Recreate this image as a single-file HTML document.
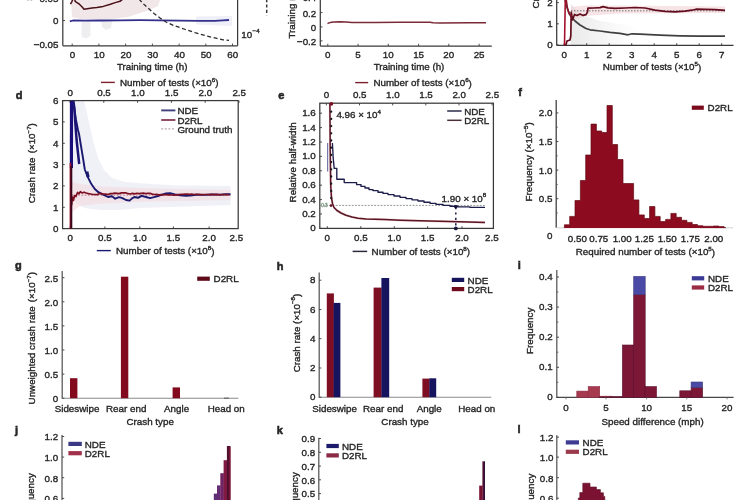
<!DOCTYPE html>
<html lang="en">
<head>
<meta charset="utf-8">
<title>Figure: NDE vs D2RL evaluation</title>
<style>
html,body{margin:0;padding:0;background:#fff;}
body{width:750px;height:500px;overflow:hidden;}
svg{display:block;font-family:"Liberation Sans",sans-serif;filter:blur(0.6px);}
</style>
</head>
<body>
<svg width="750" height="500" viewBox="0 0 750 500">
<defs><linearGradient id="gfade" x1="0" x2="1" y1="0" y2="0"><stop offset="0" stop-color="#d4d4d4" stop-opacity="0.5"/><stop offset="0.45" stop-color="#dcdcdc" stop-opacity="0.3"/><stop offset="1" stop-color="#e8e8e8" stop-opacity="0"/></linearGradient></defs>
<rect x="0" y="0" width="750" height="500" fill="#ffffff"/>
<polygon points="71.0,0.0 160.0,0.0 158.0,6.0 150.0,10.0 140.0,13.0 128.0,17.0 112.0,19.0 95.0,19.5 80.0,19.0 72.0,17.0" fill="#e6cfd1" fill-opacity="0.5"/>
<polygon points="81.6,21.0 90.4,21.0 90.4,36.0 86.0,38.5 81.6,37.0" fill="#d9d6de" fill-opacity="0.45"/>
<polygon points="101.0,21.0 112.0,21.0 111.0,28.0 106.0,30.0 102.0,27.0" fill="#dcd9dc" fill-opacity="0.45"/>
<polygon points="196.0,16.5 232.0,16.0 232.0,26.0 196.0,24.5" fill="#dfe0f0" fill-opacity="0.5"/>
<line x1="62.8" y1="0.0" x2="62.8" y2="45.8" stroke="#3a3a3a" stroke-width="1.25"/>
<line x1="237.6" y1="0.0" x2="237.6" y2="45.8" stroke="#3a3a3a" stroke-width="1.25"/>
<line x1="62.8" y1="45.8" x2="237.6" y2="45.8" stroke="#3a3a3a" stroke-width="1.25"/>
<line x1="72.2" y1="45.8" x2="72.2" y2="43.6" stroke="#3a3a3a" stroke-width="0.9"/>
<text x="72.5" y="54.2" font-size="9.8" text-anchor="middle" font-weight="normal" fill="#262626" stroke="#262626" stroke-width="0.36" dominant-baseline="central">0</text>
<line x1="98.9" y1="45.8" x2="98.9" y2="43.6" stroke="#3a3a3a" stroke-width="0.9"/>
<text x="99.2" y="54.2" font-size="9.8" text-anchor="middle" font-weight="normal" fill="#262626" stroke="#262626" stroke-width="0.36" dominant-baseline="central">10</text>
<line x1="125.6" y1="45.8" x2="125.6" y2="43.6" stroke="#3a3a3a" stroke-width="0.9"/>
<text x="125.9" y="54.2" font-size="9.8" text-anchor="middle" font-weight="normal" fill="#262626" stroke="#262626" stroke-width="0.36" dominant-baseline="central">20</text>
<line x1="152.4" y1="45.8" x2="152.4" y2="43.6" stroke="#3a3a3a" stroke-width="0.9"/>
<text x="152.7" y="54.2" font-size="9.8" text-anchor="middle" font-weight="normal" fill="#262626" stroke="#262626" stroke-width="0.36" dominant-baseline="central">30</text>
<line x1="179.1" y1="45.8" x2="179.1" y2="43.6" stroke="#3a3a3a" stroke-width="0.9"/>
<text x="179.4" y="54.2" font-size="9.8" text-anchor="middle" font-weight="normal" fill="#262626" stroke="#262626" stroke-width="0.36" dominant-baseline="central">40</text>
<line x1="205.8" y1="45.8" x2="205.8" y2="43.6" stroke="#3a3a3a" stroke-width="0.9"/>
<text x="206.1" y="54.2" font-size="9.8" text-anchor="middle" font-weight="normal" fill="#262626" stroke="#262626" stroke-width="0.36" dominant-baseline="central">50</text>
<line x1="232.5" y1="45.8" x2="232.5" y2="43.6" stroke="#3a3a3a" stroke-width="0.9"/>
<text x="232.8" y="54.2" font-size="9.8" text-anchor="middle" font-weight="normal" fill="#262626" stroke="#262626" stroke-width="0.36" dominant-baseline="central">60</text>
<line x1="62.8" y1="20.5" x2="65.0" y2="20.5" stroke="#3a3a3a" stroke-width="0.9"/>
<text x="58.5" y="20.6" font-size="9.8" text-anchor="end" font-weight="normal" fill="#262626" stroke="#262626" stroke-width="0.36" dominant-baseline="central">0</text>
<text x="58.5" y="44.6" font-size="9.8" text-anchor="end" font-weight="normal" fill="#262626" stroke="#262626" stroke-width="0.36" dominant-baseline="central">−0.05</text>
<text x="58.5" y="-1.8" font-size="9.8" text-anchor="end" font-weight="normal" fill="#262626" stroke="#262626" stroke-width="0.36" dominant-baseline="central">0.05</text>
<text x="29.0" y="-4.0" font-size="11" text-anchor="middle" font-weight="bold" fill="#262626" stroke="#262626" stroke-width="0.55" dominant-baseline="central">a</text>
<polyline points="70.4,4.2 71.8,1.8 73.2,-1.5 74.4,-1.5 75.2,1.3 77.0,2.6 79.2,4.0 82.4,7.2 84.0,9.3 87.2,8.8 92.0,8.0 96.8,7.5 103.2,6.4 109.6,4.5 116.0,2.4 120.0,1.3 123.0,-1.0" fill="none" stroke="#4a1018" stroke-width="1.5" stroke-linejoin="round"/>
<polyline points="69.8,21.4 73.0,20.5 85.0,20.6 100.0,20.5 120.0,20.3 140.0,20.2 160.0,20.4 180.0,20.7 200.0,20.9 215.0,20.9 223.0,20.4 229.0,20.0" fill="none" stroke="#332f8c" stroke-width="1.8" stroke-linejoin="round"/>
<polyline points="139.0,-1.0 143.0,3.5 148.0,8.0 154.0,13.5 160.0,18.0 166.0,22.0 174.0,25.6 184.0,29.0 195.0,32.6 206.0,35.8 216.0,38.2 223.0,39.8 229.0,40.4" fill="none" stroke="#2a2a2a" stroke-width="1.3" stroke-linejoin="round" stroke-dasharray="4 2.6"/>
<text x="241.2" y="34.6" font-size="9.8" text-anchor="start" font-weight="normal" fill="#262626" stroke="#262626" stroke-width="0.36" dominant-baseline="central">10</text>
<text x="252.6" y="30.2" font-size="6.2" text-anchor="start" font-weight="normal" fill="#262626" stroke="#262626" stroke-width="0.36" dominant-baseline="central">−4</text>
<text x="152.2" y="66.9" font-size="9.75" text-anchor="middle" font-weight="normal" fill="#262626" stroke="#262626" stroke-width="0.36" dominant-baseline="central">Training time (h)</text>
<line x1="266.7" y1="-1.0" x2="266.7" y2="15.5" stroke="#3a3a3a" stroke-width="1.5" stroke-dasharray="3.2 2.2"/>
<line x1="320.3" y1="0.0" x2="320.3" y2="46.0" stroke="#3a3a3a" stroke-width="1.25"/>
<line x1="320.3" y1="46.0" x2="491.8" y2="46.0" stroke="#3a3a3a" stroke-width="1.25"/>
<line x1="327.8" y1="46.0" x2="327.8" y2="43.8" stroke="#3a3a3a" stroke-width="0.9"/>
<text x="327.8" y="54.2" font-size="9.8" text-anchor="middle" font-weight="normal" fill="#262626" stroke="#262626" stroke-width="0.36" dominant-baseline="central">0</text>
<line x1="358.1" y1="46.0" x2="358.1" y2="43.8" stroke="#3a3a3a" stroke-width="0.9"/>
<text x="358.1" y="54.2" font-size="9.8" text-anchor="middle" font-weight="normal" fill="#262626" stroke="#262626" stroke-width="0.36" dominant-baseline="central">5</text>
<line x1="388.3" y1="46.0" x2="388.3" y2="43.8" stroke="#3a3a3a" stroke-width="0.9"/>
<text x="388.3" y="54.2" font-size="9.8" text-anchor="middle" font-weight="normal" fill="#262626" stroke="#262626" stroke-width="0.36" dominant-baseline="central">10</text>
<line x1="418.6" y1="46.0" x2="418.6" y2="43.8" stroke="#3a3a3a" stroke-width="0.9"/>
<text x="418.6" y="54.2" font-size="9.8" text-anchor="middle" font-weight="normal" fill="#262626" stroke="#262626" stroke-width="0.36" dominant-baseline="central">15</text>
<line x1="448.8" y1="46.0" x2="448.8" y2="43.8" stroke="#3a3a3a" stroke-width="0.9"/>
<text x="448.8" y="54.2" font-size="9.8" text-anchor="middle" font-weight="normal" fill="#262626" stroke="#262626" stroke-width="0.36" dominant-baseline="central">20</text>
<line x1="479.1" y1="46.0" x2="479.1" y2="43.8" stroke="#3a3a3a" stroke-width="0.9"/>
<text x="479.1" y="54.2" font-size="9.8" text-anchor="middle" font-weight="normal" fill="#262626" stroke="#262626" stroke-width="0.36" dominant-baseline="central">25</text>
<line x1="320.3" y1="-2.6" x2="322.5" y2="-2.6" stroke="#3a3a3a" stroke-width="0.9"/>
<text x="316.3" y="-2.2" font-size="9.8" text-anchor="end" font-weight="normal" fill="#262626" stroke="#262626" stroke-width="0.36" dominant-baseline="central">0.4</text>
<line x1="320.3" y1="12.6" x2="322.5" y2="12.6" stroke="#3a3a3a" stroke-width="0.9"/>
<text x="316.3" y="13.0" font-size="9.8" text-anchor="end" font-weight="normal" fill="#262626" stroke="#262626" stroke-width="0.36" dominant-baseline="central">0.2</text>
<line x1="320.3" y1="26.9" x2="322.5" y2="26.9" stroke="#3a3a3a" stroke-width="0.9"/>
<text x="316.3" y="27.3" font-size="9.8" text-anchor="end" font-weight="normal" fill="#262626" stroke="#262626" stroke-width="0.36" dominant-baseline="central">0</text>
<line x1="320.3" y1="40.9" x2="322.5" y2="40.9" stroke="#3a3a3a" stroke-width="0.9"/>
<text x="316.3" y="41.3" font-size="9.8" text-anchor="end" font-weight="normal" fill="#262626" stroke="#262626" stroke-width="0.36" dominant-baseline="central">−0.2</text>
<text x="291.2" y="38.6" font-size="9.8" text-anchor="start" font-weight="normal" fill="#262626" stroke="#262626" stroke-width="0.36" dominant-baseline="central" transform="rotate(-90 291.2 38.6)">Training reward</text>
<polyline points="327.5,23.6 329.0,22.9 331.5,22.2 334.0,21.9 340.0,21.8 346.0,22.0 352.0,22.4 375.0,22.4 400.0,22.3 430.0,22.2 433.0,22.7 440.0,22.9 470.0,22.7 486.0,22.7" fill="none" stroke="#7b2a37" stroke-width="1.5" stroke-linejoin="round"/>
<text x="409.0" y="66.9" font-size="9.75" text-anchor="middle" font-weight="normal" fill="#262626" stroke="#262626" stroke-width="0.36" dominant-baseline="central">Training time (h)</text>
<polygon points="571.0,45.4 571.0,4.0 580.0,14.0 600.0,21.0 640.0,27.0 640.0,45.4" fill="url(#gfade)"/>
<polygon points="571.0,7.0 585.0,5.5 620.0,5.5 725.0,6.5 725.0,13.0 620.0,13.5 585.0,16.0 571.0,21.0" fill="#f0c9cd" fill-opacity="0.5"/>
<line x1="556.7" y1="0.0" x2="556.7" y2="45.4" stroke="#3a3a3a" stroke-width="1.25"/>
<line x1="556.7" y1="45.4" x2="733.5" y2="45.4" stroke="#3a3a3a" stroke-width="1.25"/>
<line x1="564.2" y1="45.4" x2="564.2" y2="43.2" stroke="#3a3a3a" stroke-width="0.9"/>
<text x="564.2" y="54.2" font-size="9.8" text-anchor="middle" font-weight="normal" fill="#262626" stroke="#262626" stroke-width="0.36" dominant-baseline="central">0</text>
<line x1="586.7" y1="45.4" x2="586.7" y2="43.2" stroke="#3a3a3a" stroke-width="0.9"/>
<text x="586.7" y="54.2" font-size="9.8" text-anchor="middle" font-weight="normal" fill="#262626" stroke="#262626" stroke-width="0.36" dominant-baseline="central">1</text>
<line x1="609.2" y1="45.4" x2="609.2" y2="43.2" stroke="#3a3a3a" stroke-width="0.9"/>
<text x="609.2" y="54.2" font-size="9.8" text-anchor="middle" font-weight="normal" fill="#262626" stroke="#262626" stroke-width="0.36" dominant-baseline="central">2</text>
<line x1="631.7" y1="45.4" x2="631.7" y2="43.2" stroke="#3a3a3a" stroke-width="0.9"/>
<text x="631.7" y="54.2" font-size="9.8" text-anchor="middle" font-weight="normal" fill="#262626" stroke="#262626" stroke-width="0.36" dominant-baseline="central">3</text>
<line x1="654.2" y1="45.4" x2="654.2" y2="43.2" stroke="#3a3a3a" stroke-width="0.9"/>
<text x="654.2" y="54.2" font-size="9.8" text-anchor="middle" font-weight="normal" fill="#262626" stroke="#262626" stroke-width="0.36" dominant-baseline="central">4</text>
<line x1="676.7" y1="45.4" x2="676.7" y2="43.2" stroke="#3a3a3a" stroke-width="0.9"/>
<text x="676.7" y="54.2" font-size="9.8" text-anchor="middle" font-weight="normal" fill="#262626" stroke="#262626" stroke-width="0.36" dominant-baseline="central">5</text>
<line x1="699.2" y1="45.4" x2="699.2" y2="43.2" stroke="#3a3a3a" stroke-width="0.9"/>
<text x="699.2" y="54.2" font-size="9.8" text-anchor="middle" font-weight="normal" fill="#262626" stroke="#262626" stroke-width="0.36" dominant-baseline="central">6</text>
<line x1="721.7" y1="45.4" x2="721.7" y2="43.2" stroke="#3a3a3a" stroke-width="0.9"/>
<text x="721.7" y="54.2" font-size="9.8" text-anchor="middle" font-weight="normal" fill="#262626" stroke="#262626" stroke-width="0.36" dominant-baseline="central">7</text>
<line x1="556.7" y1="45.0" x2="558.9" y2="45.0" stroke="#3a3a3a" stroke-width="0.9"/>
<text x="552.8" y="44.7" font-size="9.8" text-anchor="end" font-weight="normal" fill="#262626" stroke="#262626" stroke-width="0.36" dominant-baseline="central">0</text>
<line x1="556.7" y1="23.8" x2="558.9" y2="23.8" stroke="#3a3a3a" stroke-width="0.9"/>
<text x="552.8" y="23.5" font-size="9.8" text-anchor="end" font-weight="normal" fill="#262626" stroke="#262626" stroke-width="0.36" dominant-baseline="central">1</text>
<line x1="556.7" y1="2.6" x2="558.9" y2="2.6" stroke="#3a3a3a" stroke-width="0.9"/>
<text x="552.8" y="2.3" font-size="9.8" text-anchor="end" font-weight="normal" fill="#262626" stroke="#262626" stroke-width="0.36" dominant-baseline="central">2</text>
<text x="535.2" y="8.5" font-size="9.8" text-anchor="start" font-weight="normal" fill="#262626" stroke="#262626" stroke-width="0.36" dominant-baseline="central" transform="rotate(-90 535.2 8.5)">Crash rate</text>
<line x1="571.0" y1="10.8" x2="725.0" y2="10.8" stroke="#555" stroke-width="0.8" stroke-dasharray="1.5 1.5"/>
<polyline points="565.0,-1.0 566.5,6.0 568.5,12.0 571.0,16.5 575.0,21.0 580.0,25.0 586.0,28.5 590.0,29.8 600.0,31.0 610.0,32.4 620.0,33.3 628.0,34.8 632.0,33.8 640.0,34.2 660.0,35.2 680.0,35.9 700.0,36.2 725.0,36.1" fill="none" stroke="#404040" stroke-width="1.7" stroke-linejoin="round"/>
<polyline points="564.0,45.0 566.0,44.5 567.0,41.0 570.0,40.0 570.8,36.0 571.2,12.0 572.5,20.0 574.5,14.5 577.0,15.5 580.0,14.0 583.0,15.4 586.0,14.6 587.5,12.0 588.0,8.2 594.0,8.0 600.0,7.6 603.0,6.6 608.0,7.8 615.0,8.4 625.0,8.0 635.0,7.5 645.0,8.0 655.0,10.2 665.0,11.3 675.0,11.8 685.0,11.2 692.0,10.2 696.0,9.2 705.0,9.4 715.0,9.6 725.0,10.3" fill="none" stroke="#620e1e" stroke-width="1.7" stroke-linejoin="round"/>
<polyline points="564.5,45.0 565.3,-1.0" fill="none" stroke="#a3122a" stroke-width="1.6" stroke-linejoin="round"/>
<polyline points="566.2,-1.0 567.5,8.0 569.5,14.5 572.0,16.2" fill="none" stroke="#8e1226" stroke-width="1.4" stroke-linejoin="round"/>
<text x="652.0" y="66.6" font-size="9.8" text-anchor="middle" font-weight="normal" fill="#262626" stroke="#262626" stroke-width="0.36" dominant-baseline="central">Number of tests (×10<tspan font-size="6.2" dy="-3.6">5</tspan><tspan dy="3.6">)</tspan></text>
<line x1="101.0" y1="82.4" x2="114.8" y2="82.4" stroke="#7c2030" stroke-width="1.4"/>
<text x="120.0" y="82.2" font-size="9.8" text-anchor="start" font-weight="normal" fill="#262626" stroke="#262626" stroke-width="0.36" dominant-baseline="central">Number of tests (×10<tspan font-size="6.2" dy="-3.6">6</tspan><tspan dy="3.6">)</tspan></text>
<text x="19.2" y="95.2" font-size="11" text-anchor="middle" font-weight="bold" fill="#262626" stroke="#262626" stroke-width="0.55" dominant-baseline="central">d</text>
<polygon points="72.0,100.6 84.0,100.6 88.0,118.0 93.0,140.0 98.0,158.0 104.0,170.0 112.0,178.0 125.0,182.0 150.0,184.0 180.0,185.5 230.5,186.0 230.5,205.0 200.0,206.0 170.0,207.0 140.0,208.0 120.0,210.0 100.0,210.0 85.0,208.0 78.0,205.0 74.0,200.0 72.0,190.0" fill="#e2e2f0" fill-opacity="0.5"/>
<polygon points="72.0,182.0 80.0,184.0 100.0,186.5 150.0,188.5 230.5,190.0 230.5,200.0 150.0,201.5 100.0,203.5 80.0,206.0 72.0,212.0" fill="#f3d6d9" fill-opacity="0.5"/>
<rect x="62.6" y="100.6" width="175.6" height="128.0" fill="none" stroke="#3a3a3a" stroke-width="1.25"/>
<line x1="70.0" y1="100.6" x2="70.0" y2="102.8" stroke="#3a3a3a" stroke-width="0.9"/>
<line x1="70.2" y1="228.6" x2="70.2" y2="226.4" stroke="#3a3a3a" stroke-width="0.9"/>
<text x="70.2" y="92.8" font-size="9.8" text-anchor="middle" font-weight="normal" fill="#262626" stroke="#262626" stroke-width="0.36" dominant-baseline="central">0</text>
<text x="70.2" y="237.6" font-size="9.8" text-anchor="middle" font-weight="normal" fill="#262626" stroke="#262626" stroke-width="0.36" dominant-baseline="central">0</text>
<line x1="103.8" y1="100.6" x2="103.8" y2="102.8" stroke="#3a3a3a" stroke-width="0.9"/>
<line x1="104.9" y1="228.6" x2="104.9" y2="226.4" stroke="#3a3a3a" stroke-width="0.9"/>
<text x="104.0" y="92.8" font-size="9.8" text-anchor="middle" font-weight="normal" fill="#262626" stroke="#262626" stroke-width="0.36" dominant-baseline="central">0.5</text>
<text x="104.9" y="237.6" font-size="9.8" text-anchor="middle" font-weight="normal" fill="#262626" stroke="#262626" stroke-width="0.36" dominant-baseline="central">0.5</text>
<line x1="137.6" y1="100.6" x2="137.6" y2="102.8" stroke="#3a3a3a" stroke-width="0.9"/>
<line x1="139.8" y1="228.6" x2="139.8" y2="226.4" stroke="#3a3a3a" stroke-width="0.9"/>
<text x="137.8" y="92.8" font-size="9.8" text-anchor="middle" font-weight="normal" fill="#262626" stroke="#262626" stroke-width="0.36" dominant-baseline="central">1.0</text>
<text x="139.8" y="237.6" font-size="9.8" text-anchor="middle" font-weight="normal" fill="#262626" stroke="#262626" stroke-width="0.36" dominant-baseline="central">1.0</text>
<line x1="171.4" y1="100.6" x2="171.4" y2="102.8" stroke="#3a3a3a" stroke-width="0.9"/>
<line x1="173.4" y1="228.6" x2="173.4" y2="226.4" stroke="#3a3a3a" stroke-width="0.9"/>
<text x="171.6" y="92.8" font-size="9.8" text-anchor="middle" font-weight="normal" fill="#262626" stroke="#262626" stroke-width="0.36" dominant-baseline="central">1.5</text>
<text x="173.4" y="237.6" font-size="9.8" text-anchor="middle" font-weight="normal" fill="#262626" stroke="#262626" stroke-width="0.36" dominant-baseline="central">1.5</text>
<line x1="205.2" y1="100.6" x2="205.2" y2="102.8" stroke="#3a3a3a" stroke-width="0.9"/>
<line x1="209.1" y1="228.6" x2="209.1" y2="226.4" stroke="#3a3a3a" stroke-width="0.9"/>
<text x="205.4" y="92.8" font-size="9.8" text-anchor="middle" font-weight="normal" fill="#262626" stroke="#262626" stroke-width="0.36" dominant-baseline="central">2.0</text>
<text x="209.1" y="237.6" font-size="9.8" text-anchor="middle" font-weight="normal" fill="#262626" stroke="#262626" stroke-width="0.36" dominant-baseline="central">2.0</text>
<line x1="239.0" y1="100.6" x2="239.0" y2="102.8" stroke="#3a3a3a" stroke-width="0.9"/>
<text x="239.2" y="92.8" font-size="9.8" text-anchor="middle" font-weight="normal" fill="#262626" stroke="#262626" stroke-width="0.36" dominant-baseline="central">2.5</text>
<text x="236.3" y="237.6" font-size="9.8" text-anchor="middle" font-weight="normal" fill="#262626" stroke="#262626" stroke-width="0.36" dominant-baseline="central">2.5</text>
<line x1="62.6" y1="228.6" x2="64.8" y2="228.6" stroke="#3a3a3a" stroke-width="0.9"/>
<text x="58.4" y="228.4" font-size="9.8" text-anchor="end" font-weight="normal" fill="#262626" stroke="#262626" stroke-width="0.36" dominant-baseline="central">0</text>
<line x1="62.6" y1="207.3" x2="64.8" y2="207.3" stroke="#3a3a3a" stroke-width="0.9"/>
<text x="58.4" y="207.1" font-size="9.8" text-anchor="end" font-weight="normal" fill="#262626" stroke="#262626" stroke-width="0.36" dominant-baseline="central">1</text>
<line x1="62.6" y1="185.9" x2="64.8" y2="185.9" stroke="#3a3a3a" stroke-width="0.9"/>
<text x="58.4" y="185.7" font-size="9.8" text-anchor="end" font-weight="normal" fill="#262626" stroke="#262626" stroke-width="0.36" dominant-baseline="central">2</text>
<line x1="62.6" y1="164.6" x2="64.8" y2="164.6" stroke="#3a3a3a" stroke-width="0.9"/>
<text x="58.4" y="164.4" font-size="9.8" text-anchor="end" font-weight="normal" fill="#262626" stroke="#262626" stroke-width="0.36" dominant-baseline="central">3</text>
<line x1="62.6" y1="143.3" x2="64.8" y2="143.3" stroke="#3a3a3a" stroke-width="0.9"/>
<text x="58.4" y="143.1" font-size="9.8" text-anchor="end" font-weight="normal" fill="#262626" stroke="#262626" stroke-width="0.36" dominant-baseline="central">4</text>
<line x1="62.6" y1="121.9" x2="64.8" y2="121.9" stroke="#3a3a3a" stroke-width="0.9"/>
<text x="58.4" y="121.7" font-size="9.8" text-anchor="end" font-weight="normal" fill="#262626" stroke="#262626" stroke-width="0.36" dominant-baseline="central">5</text>
<line x1="62.6" y1="100.6" x2="64.8" y2="100.6" stroke="#3a3a3a" stroke-width="0.9"/>
<text x="58.4" y="100.4" font-size="9.8" text-anchor="end" font-weight="normal" fill="#262626" stroke="#262626" stroke-width="0.36" dominant-baseline="central">6</text>
<text x="31.2" y="163.2" font-size="9.8" text-anchor="middle" font-weight="normal" fill="#262626" stroke="#262626" stroke-width="0.36" dominant-baseline="central" transform="rotate(-90 31.2 163.2)">Crash rate <tspan dx="1.5">(×10</tspan><tspan font-size="6.2" dy="-3.6">−7</tspan><tspan dy="3.6">)</tspan></text>
<line x1="72.0" y1="195.1" x2="230.5" y2="195.1" stroke="#b0566a" stroke-width="0.8" stroke-dasharray="1.6 1.6"/>
<polyline points="72.6,100.6 74.0,106.0 76.0,120.0 78.0,130.0 79.2,134.8 81.0,146.0 83.0,158.0 84.8,169.5 87.6,176.6 91.2,183.8 94.8,189.0 98.4,192.2 103.2,194.6 108.0,197.0 112.0,196.2 115.2,198.7 119.0,197.2 122.4,198.2 126.0,200.0 129.6,200.6 132.0,198.4 134.4,197.0 138.0,197.8 141.6,195.8 146.0,197.0 150.0,198.2 154.0,197.2 158.0,196.0 162.0,194.6 166.0,193.4 170.0,193.2 175.0,194.4 180.0,195.2 186.0,195.8 190.5,195.6 196.0,194.8 204.0,194.9 212.0,194.5 220.0,194.6 226.0,194.2 230.5,194.3" fill="none" stroke="#1a1970" stroke-width="1.9" stroke-linejoin="round"/>
<polyline points="71.5,101.0 71.4,168.0" fill="none" stroke="#1a0f78" stroke-width="3.2" stroke-linejoin="round"/>
<polyline points="73.4,101.2 74.3,108.0 75.4,124.0 76.6,140.0 78.0,153.0 79.2,164.0" fill="none" stroke="#1a1472" stroke-width="2.5" stroke-linejoin="round"/>
<polyline points="86.9,171.6 88.2,177.2" fill="none" stroke="#1a1970" stroke-width="3.0" stroke-linejoin="round"/>
<polyline points="70.8,228.6 71.0,192.0 71.6,205.0 72.4,197.0 73.4,200.5 74.6,195.5 76.0,196.5 77.5,192.5 79.0,193.8 80.5,191.6 82.0,193.0 84.0,192.2 86.2,193.0 88.4,193.6 90.6,194.0 92.8,194.5 95.0,194.5 97.2,194.7 99.4,193.6 101.6,193.6 103.8,194.2 106.0,194.2 108.2,194.5 110.4,193.6 112.6,193.6 114.8,193.2 117.0,193.4 119.2,193.6 121.4,192.9 123.6,192.8 125.8,192.8 128.0,193.7 130.2,194.0 132.4,193.4 134.6,193.9 136.8,193.3 139.0,193.6 141.2,193.4 143.4,193.2 145.6,193.6 147.8,193.4 150.0,193.3 152.2,194.1 154.4,194.5 156.6,194.4 158.8,194.8 161.0,194.7 163.2,194.8 165.4,194.5 167.6,194.8 169.8,194.8 172.0,195.0 174.2,195.1 176.4,194.8 178.6,194.6 180.8,194.4 183.0,194.3 185.2,194.2 187.4,194.2 189.6,194.4 191.8,194.2 194.0,194.5 196.2,194.4 198.4,194.4 200.6,194.7 202.8,194.6 205.0,194.5 207.2,194.5 209.4,194.7 211.6,194.4 213.8,194.7 216.0,194.4 218.2,194.6 220.4,194.8 222.6,194.5 224.8,194.7 227.0,194.6 229.2,194.6" fill="none" stroke="#7e1024" stroke-width="1.7" stroke-linejoin="round"/>
<polyline points="70.4,228.6 70.4,163.0" fill="none" stroke="#a3122a" stroke-width="1.6" stroke-linejoin="round"/>
<polyline points="71.3,228.6 71.3,166.0" fill="none" stroke="#3a0a1c" stroke-width="2.0" stroke-linejoin="round"/>
<line x1="161.2" y1="110.4" x2="175.4" y2="110.4" stroke="#3f3f7c" stroke-width="1.9"/>
<text x="177.4" y="110.6" font-size="9.8" text-anchor="start" font-weight="normal" fill="#262626" stroke="#262626" stroke-width="0.36" dominant-baseline="central">NDE</text>
<line x1="161.2" y1="120.0" x2="175.4" y2="120.0" stroke="#8a4658" stroke-width="1.9"/>
<text x="177.4" y="120.2" font-size="9.8" text-anchor="start" font-weight="normal" fill="#262626" stroke="#262626" stroke-width="0.36" dominant-baseline="central">D2RL</text>
<line x1="161.2" y1="128.9" x2="175.4" y2="128.9" stroke="#b9a9ae" stroke-width="1.3" stroke-dasharray="2 1.6"/>
<text x="177.4" y="129.1" font-size="9.8" text-anchor="start" font-weight="normal" fill="#262626" stroke="#262626" stroke-width="0.36" dominant-baseline="central">Ground truth</text>
<line x1="96.8" y1="250.6" x2="110.8" y2="250.6" stroke="#1b1a70" stroke-width="1.4"/>
<text x="116.0" y="250.6" font-size="9.8" text-anchor="start" font-weight="normal" fill="#262626" stroke="#262626" stroke-width="0.36" dominant-baseline="central">Number of tests (×10<tspan font-size="6.2" dy="-3.6">8</tspan><tspan dy="3.6">)</tspan></text>
<line x1="355.2" y1="82.6" x2="368.2" y2="82.6" stroke="#7c2030" stroke-width="1.4"/>
<text x="373.4" y="82.6" font-size="9.8" text-anchor="start" font-weight="normal" fill="#262626" stroke="#262626" stroke-width="0.36" dominant-baseline="central">Number of tests (×10<tspan font-size="6.2" dy="-3.6">6</tspan><tspan dy="3.6">)</tspan></text>
<text x="281.2" y="95.2" font-size="11" text-anchor="middle" font-weight="bold" fill="#262626" stroke="#262626" stroke-width="0.55" dominant-baseline="central">e</text>
<rect x="319.8" y="103.2" width="173.6" height="125.2" fill="none" stroke="#3a3a3a" stroke-width="1.25"/>
<line x1="326.4" y1="103.2" x2="326.4" y2="105.4" stroke="#3a3a3a" stroke-width="0.9"/>
<line x1="327.3" y1="228.4" x2="327.3" y2="226.2" stroke="#3a3a3a" stroke-width="0.9"/>
<text x="326.6" y="94.2" font-size="9.8" text-anchor="middle" font-weight="normal" fill="#262626" stroke="#262626" stroke-width="0.36" dominant-baseline="central">0</text>
<text x="327.3" y="237.8" font-size="9.8" text-anchor="middle" font-weight="normal" fill="#262626" stroke="#262626" stroke-width="0.36" dominant-baseline="central">0</text>
<line x1="359.5" y1="103.2" x2="359.5" y2="105.4" stroke="#3a3a3a" stroke-width="0.9"/>
<line x1="360.8" y1="228.4" x2="360.8" y2="226.2" stroke="#3a3a3a" stroke-width="0.9"/>
<text x="359.7" y="94.2" font-size="9.8" text-anchor="middle" font-weight="normal" fill="#262626" stroke="#262626" stroke-width="0.36" dominant-baseline="central">0.5</text>
<text x="360.8" y="237.8" font-size="9.8" text-anchor="middle" font-weight="normal" fill="#262626" stroke="#262626" stroke-width="0.36" dominant-baseline="central">0.5</text>
<line x1="392.7" y1="103.2" x2="392.7" y2="105.4" stroke="#3a3a3a" stroke-width="0.9"/>
<line x1="394.3" y1="228.4" x2="394.3" y2="226.2" stroke="#3a3a3a" stroke-width="0.9"/>
<text x="392.9" y="94.2" font-size="9.8" text-anchor="middle" font-weight="normal" fill="#262626" stroke="#262626" stroke-width="0.36" dominant-baseline="central">1.0</text>
<text x="394.3" y="237.8" font-size="9.8" text-anchor="middle" font-weight="normal" fill="#262626" stroke="#262626" stroke-width="0.36" dominant-baseline="central">1.0</text>
<line x1="425.8" y1="103.2" x2="425.8" y2="105.4" stroke="#3a3a3a" stroke-width="0.9"/>
<line x1="427.6" y1="228.4" x2="427.6" y2="226.2" stroke="#3a3a3a" stroke-width="0.9"/>
<text x="426.0" y="94.2" font-size="9.8" text-anchor="middle" font-weight="normal" fill="#262626" stroke="#262626" stroke-width="0.36" dominant-baseline="central">1.5</text>
<text x="427.6" y="237.8" font-size="9.8" text-anchor="middle" font-weight="normal" fill="#262626" stroke="#262626" stroke-width="0.36" dominant-baseline="central">1.5</text>
<line x1="459.0" y1="103.2" x2="459.0" y2="105.4" stroke="#3a3a3a" stroke-width="0.9"/>
<line x1="462.0" y1="228.4" x2="462.0" y2="226.2" stroke="#3a3a3a" stroke-width="0.9"/>
<text x="459.2" y="94.2" font-size="9.8" text-anchor="middle" font-weight="normal" fill="#262626" stroke="#262626" stroke-width="0.36" dominant-baseline="central">2.0</text>
<text x="462.0" y="237.8" font-size="9.8" text-anchor="middle" font-weight="normal" fill="#262626" stroke="#262626" stroke-width="0.36" dominant-baseline="central">2.0</text>
<line x1="492.1" y1="103.2" x2="492.1" y2="105.4" stroke="#3a3a3a" stroke-width="0.9"/>
<text x="492.3" y="94.2" font-size="9.8" text-anchor="middle" font-weight="normal" fill="#262626" stroke="#262626" stroke-width="0.36" dominant-baseline="central">2.5</text>
<text x="491.9" y="237.8" font-size="9.8" text-anchor="middle" font-weight="normal" fill="#262626" stroke="#262626" stroke-width="0.36" dominant-baseline="central">2.5</text>
<line x1="319.8" y1="228.4" x2="322.0" y2="228.4" stroke="#3a3a3a" stroke-width="0.9"/>
<text x="315.8" y="227.8" font-size="9.8" text-anchor="end" font-weight="normal" fill="#262626" stroke="#262626" stroke-width="0.36" dominant-baseline="central">0</text>
<line x1="319.8" y1="214.0" x2="322.0" y2="214.0" stroke="#3a3a3a" stroke-width="0.9"/>
<text x="315.8" y="213.4" font-size="9.8" text-anchor="end" font-weight="normal" fill="#262626" stroke="#262626" stroke-width="0.36" dominant-baseline="central">0.2</text>
<line x1="319.8" y1="199.6" x2="322.0" y2="199.6" stroke="#3a3a3a" stroke-width="0.9"/>
<text x="315.8" y="199.0" font-size="9.8" text-anchor="end" font-weight="normal" fill="#262626" stroke="#262626" stroke-width="0.36" dominant-baseline="central">0.4</text>
<line x1="319.8" y1="185.2" x2="322.0" y2="185.2" stroke="#3a3a3a" stroke-width="0.9"/>
<text x="315.8" y="184.6" font-size="9.8" text-anchor="end" font-weight="normal" fill="#262626" stroke="#262626" stroke-width="0.36" dominant-baseline="central">0.6</text>
<line x1="319.8" y1="170.8" x2="322.0" y2="170.8" stroke="#3a3a3a" stroke-width="0.9"/>
<text x="315.8" y="170.2" font-size="9.8" text-anchor="end" font-weight="normal" fill="#262626" stroke="#262626" stroke-width="0.36" dominant-baseline="central">0.8</text>
<line x1="319.8" y1="156.4" x2="322.0" y2="156.4" stroke="#3a3a3a" stroke-width="0.9"/>
<text x="315.8" y="155.8" font-size="9.8" text-anchor="end" font-weight="normal" fill="#262626" stroke="#262626" stroke-width="0.36" dominant-baseline="central">1.0</text>
<line x1="319.8" y1="142.0" x2="322.0" y2="142.0" stroke="#3a3a3a" stroke-width="0.9"/>
<text x="315.8" y="141.4" font-size="9.8" text-anchor="end" font-weight="normal" fill="#262626" stroke="#262626" stroke-width="0.36" dominant-baseline="central">1.2</text>
<line x1="319.8" y1="127.6" x2="322.0" y2="127.6" stroke="#3a3a3a" stroke-width="0.9"/>
<text x="315.8" y="127.0" font-size="9.8" text-anchor="end" font-weight="normal" fill="#262626" stroke="#262626" stroke-width="0.36" dominant-baseline="central">1.4</text>
<line x1="319.8" y1="113.2" x2="322.0" y2="113.2" stroke="#3a3a3a" stroke-width="0.9"/>
<text x="315.8" y="112.6" font-size="9.8" text-anchor="end" font-weight="normal" fill="#262626" stroke="#262626" stroke-width="0.36" dominant-baseline="central">1.6</text>
<text x="292.4" y="162.4" font-size="9.8" text-anchor="middle" font-weight="normal" fill="#262626" stroke="#262626" stroke-width="0.36" dominant-baseline="central" transform="rotate(-90 292.4 162.4)">Relative half-width</text>
<line x1="319.8" y1="205.4" x2="485.0" y2="205.4" stroke="#7f8a80" stroke-width="0.9" stroke-dasharray="1.8 1.4"/>
<text x="324.4" y="205.6" font-size="4.6" text-anchor="middle" font-weight="normal" fill="#7f9a88" stroke="#7f9a88" stroke-width="0.36" dominant-baseline="central">0.3</text>
<polyline points="332.4,143.0 333.2,158.0 334.2,168.4 336.8,168.4 336.8,179.2 344.2,179.2 344.2,182.6 356.6,182.6 356.6,184.6 361.0,184.6 361.0,186.4 365.0,186.4 365.0,188.0 369.0,188.0 369.0,189.6 373.0,189.6 373.0,190.6 378.0,190.6 378.0,192.2 383.0,192.2 383.0,193.4 388.0,193.4 388.0,194.6 394.0,194.6 394.0,196.0 400.0,196.0 400.0,197.3 406.0,197.3 406.0,198.6 412.0,198.6 412.0,199.8 418.0,199.8 418.0,201.0 424.0,201.0 424.0,202.2 430.0,202.2 430.0,203.3 436.0,203.3 436.0,204.3 443.0,204.3 443.0,205.3 450.0,205.3 450.0,206.2 458.0,206.2 458.0,206.8 470.0,206.8 470.0,207.4 485.0,207.4" fill="none" stroke="#1c1c4a" stroke-width="1.35" stroke-linejoin="round"/>
<polyline points="327.7,171.5 327.7,143.0" fill="none" stroke="#5a5a96" stroke-width="1.0" stroke-linejoin="round"/>
<polyline points="329.9,103.2 330.2,150.0 330.7,185.0 331.5,198.0 332.6,204.0 334.0,207.5 337.0,210.5 341.0,213.0 346.0,215.2 352.0,217.0 358.0,218.2 366.0,219.0 375.0,219.2 385.0,219.6 400.0,220.2 420.0,220.8 440.0,221.3 460.0,221.8 485.0,222.4" fill="none" stroke="#c23a50" stroke-width="2.2" stroke-linejoin="round" stroke-opacity="0.25"/>
<polyline points="329.9,103.2 330.2,150.0 330.7,185.0 331.5,198.0 332.6,204.0 334.0,207.5 337.0,210.5 341.0,213.0 346.0,215.2 352.0,217.0 358.0,218.2 366.0,219.0 375.0,219.2 385.0,219.6 400.0,220.2 420.0,220.8 440.0,221.3 460.0,221.8 485.0,222.4" fill="none" stroke="#5a1624" stroke-width="1.5" stroke-linejoin="round"/>
<circle cx="331.2" cy="111.7" r="1.15" fill="#15151c"/>
<circle cx="331.2" cy="118.9" r="1.15" fill="#15151c"/>
<circle cx="331.2" cy="126.1" r="1.15" fill="#15151c"/>
<circle cx="331.2" cy="133.3" r="1.15" fill="#15151c"/>
<circle cx="331.2" cy="140.5" r="1.15" fill="#15151c"/>
<circle cx="331.2" cy="147.7" r="1.15" fill="#15151c"/>
<circle cx="331.2" cy="154.9" r="1.15" fill="#15151c"/>
<circle cx="331.2" cy="162.1" r="1.15" fill="#15151c"/>
<circle cx="331.2" cy="169.3" r="1.15" fill="#15151c"/>
<circle cx="331.2" cy="176.5" r="1.15" fill="#15151c"/>
<circle cx="331.2" cy="183.7" r="1.15" fill="#15151c"/>
<circle cx="331.2" cy="190.9" r="1.15" fill="#15151c"/>
<circle cx="331.2" cy="198.1" r="1.15" fill="#15151c"/>
<circle cx="331.4" cy="103.8" r="1.9" fill="#7a0f22"/>
<circle cx="331" cy="205.60000000000002" r="1.3" fill="#5a1020"/>
<text x="336.4" y="114.4" font-size="9.8" text-anchor="start" font-weight="normal" fill="#262626" stroke="#262626" stroke-width="0.36" dominant-baseline="central">4.96 × 10<tspan font-size="6.2" dy="-3.6">4</tspan></text>
<line x1="455.8" y1="207.0" x2="455.8" y2="228.4" stroke="#1c1c4a" stroke-width="1.5" stroke-dasharray="2.2 3.2"/>
<circle cx="455.8" cy="206.8" r="1.8" fill="#14143c"/>
<circle cx="455.8" cy="228.4" r="1.9" fill="#14143c"/>
<text x="441.6" y="198.0" font-size="9.8" text-anchor="start" font-weight="normal" fill="#262626" stroke="#262626" stroke-width="0.36" dominant-baseline="central">1.90 × 10<tspan font-size="6.2" dy="-3.6">8</tspan></text>
<line x1="447.2" y1="111.0" x2="461.6" y2="111.0" stroke="#2a2a4a" stroke-width="1.5"/>
<text x="464.2" y="111.2" font-size="9.8" text-anchor="start" font-weight="normal" fill="#262626" stroke="#262626" stroke-width="0.36" dominant-baseline="central">NDE</text>
<line x1="447.2" y1="120.3" x2="461.6" y2="120.3" stroke="#4a3038" stroke-width="1.5"/>
<text x="464.2" y="120.5" font-size="9.8" text-anchor="start" font-weight="normal" fill="#262626" stroke="#262626" stroke-width="0.36" dominant-baseline="central">D2RL</text>
<line x1="352.6" y1="251.4" x2="367.2" y2="251.4" stroke="#2a2a3a" stroke-width="1.5"/>
<text x="371.6" y="251.2" font-size="9.8" text-anchor="start" font-weight="normal" fill="#262626" stroke="#262626" stroke-width="0.36" dominant-baseline="central">Number of tests (×10<tspan font-size="6.2" dy="-3.6">8</tspan><tspan dy="3.6">)</tspan></text>
<text x="520.2" y="91.6" font-size="11" text-anchor="middle" font-weight="bold" fill="#262626" stroke="#262626" stroke-width="0.55" dominant-baseline="central">f</text>
<line x1="556.2" y1="100.0" x2="556.2" y2="227.8" stroke="#3a3a3a" stroke-width="1.25"/>
<line x1="556.2" y1="227.8" x2="733.0" y2="227.8" stroke="#c8c8c8" stroke-width="0.8"/>
<line x1="700.0" y1="227.6" x2="726.0" y2="227.6" stroke="#5a2a30" stroke-width="0.9"/>
<line x1="556.2" y1="213.0" x2="557.8" y2="213.0" stroke="#3a3a3a" stroke-width="0.7"/>
<line x1="556.2" y1="184.4" x2="557.8" y2="184.4" stroke="#3a3a3a" stroke-width="0.7"/>
<line x1="556.2" y1="155.8" x2="557.8" y2="155.8" stroke="#3a3a3a" stroke-width="0.7"/>
<line x1="556.2" y1="127.2" x2="557.8" y2="127.2" stroke="#3a3a3a" stroke-width="0.7"/>
<line x1="556.2" y1="198.7" x2="558.4" y2="198.7" stroke="#3a3a3a" stroke-width="0.9"/>
<text x="552.4" y="198.6" font-size="9.8" text-anchor="end" font-weight="normal" fill="#262626" stroke="#262626" stroke-width="0.36" dominant-baseline="central">0.5</text>
<line x1="556.2" y1="170.1" x2="558.4" y2="170.1" stroke="#3a3a3a" stroke-width="0.9"/>
<text x="552.4" y="170.0" font-size="9.8" text-anchor="end" font-weight="normal" fill="#262626" stroke="#262626" stroke-width="0.36" dominant-baseline="central">1.0</text>
<line x1="556.2" y1="141.5" x2="558.4" y2="141.5" stroke="#3a3a3a" stroke-width="0.9"/>
<text x="552.4" y="141.4" font-size="9.8" text-anchor="end" font-weight="normal" fill="#262626" stroke="#262626" stroke-width="0.36" dominant-baseline="central">1.5</text>
<line x1="556.2" y1="112.9" x2="558.4" y2="112.9" stroke="#3a3a3a" stroke-width="0.9"/>
<text x="552.4" y="112.8" font-size="9.8" text-anchor="end" font-weight="normal" fill="#262626" stroke="#262626" stroke-width="0.36" dominant-baseline="central">2.0</text>
<text x="549.8" y="235.2" font-size="9.8" text-anchor="middle" font-weight="normal" fill="#262626" stroke="#262626" stroke-width="0.36" dominant-baseline="central">0</text>
<text x="528.4" y="161.8" font-size="9.8" text-anchor="middle" font-weight="normal" fill="#262626" stroke="#262626" stroke-width="0.36" dominant-baseline="central" transform="rotate(-90 528.4 161.8)">Frequency (×10<tspan font-size="6.2" dy="-3.6">−5</tspan><tspan dy="3.6">)</tspan></text>
<polyline points="564.4,228.1 564.4,224.8 569.7,224.8 569.7,216.4 575.0,216.4 575.0,200.5 580.4,200.5 580.4,180.5 585.7,180.5 585.7,155.0 591.0,155.0 591.0,124.1 596.4,124.1 596.4,131.0 601.7,131.0 601.7,132.5 607.0,132.5 607.0,105.5 612.3,105.5 612.3,144.5 617.6,144.5 617.6,159.5 623.0,159.5 623.0,183.5 628.3,183.5 628.3,183.5 633.6,183.5 633.6,199.9 638.9,199.9 638.9,214.9 644.3,214.9 644.3,218.5 649.6,218.5 649.6,206.5 654.9,206.5 654.9,216.4 660.2,216.4 660.2,221.5 665.6,221.5 665.6,219.4 670.9,219.4 670.9,213.4 676.2,213.4 676.2,217.3 681.5,217.3 681.5,220.3 686.9,220.3 686.9,222.4 692.2,222.4 692.2,224.5 697.5,224.5 697.5,225.7 702.9,225.7 702.9,226.3 708.2,226.3 708.2,226.3 713.5,226.3 713.5,226.0 718.8,226.0 718.8,226.6 724.1,226.6 724.1,228.1" fill="#8c0b1f" stroke="#640a14" stroke-width="0.7" stroke-linejoin="round"/>
<text x="577.4" y="238.3" font-size="9.8" text-anchor="middle" font-weight="normal" fill="#262626" stroke="#262626" stroke-width="0.36" dominant-baseline="central">0.50</text>
<text x="598.8" y="238.3" font-size="9.8" text-anchor="middle" font-weight="normal" fill="#262626" stroke="#262626" stroke-width="0.36" dominant-baseline="central">0.75</text>
<text x="622.2" y="238.3" font-size="9.8" text-anchor="middle" font-weight="normal" fill="#262626" stroke="#262626" stroke-width="0.36" dominant-baseline="central">1.00</text>
<text x="644.4" y="238.3" font-size="9.8" text-anchor="middle" font-weight="normal" fill="#262626" stroke="#262626" stroke-width="0.36" dominant-baseline="central">1.25</text>
<text x="667.2" y="238.3" font-size="9.8" text-anchor="middle" font-weight="normal" fill="#262626" stroke="#262626" stroke-width="0.36" dominant-baseline="central">1.50</text>
<text x="690.4" y="238.3" font-size="9.8" text-anchor="middle" font-weight="normal" fill="#262626" stroke="#262626" stroke-width="0.36" dominant-baseline="central">1.75</text>
<text x="713.8" y="238.3" font-size="9.8" text-anchor="middle" font-weight="normal" fill="#262626" stroke="#262626" stroke-width="0.36" dominant-baseline="central">2.00</text>
<text x="645.4" y="251.6" font-size="9.8" text-anchor="middle" font-weight="normal" fill="#262626" stroke="#262626" stroke-width="0.36" dominant-baseline="central">Required number of tests (×10<tspan font-size="6.2" dy="-3.6">5</tspan><tspan dy="3.6">)</tspan></text>
<rect x="691.8" y="105.6" width="12.0" height="4.2" fill="#7a0a1c"/>
<text x="707.6" y="107.8" font-size="9.8" text-anchor="start" font-weight="normal" fill="#262626" stroke="#262626" stroke-width="0.36" dominant-baseline="central">D2RL</text>
<text x="18.4" y="265.2" font-size="11" text-anchor="middle" font-weight="bold" fill="#262626" stroke="#262626" stroke-width="0.55" dominant-baseline="central">g</text>
<line x1="62.2" y1="271.0" x2="62.2" y2="398.7" stroke="#555" stroke-width="1.25"/>
<line x1="62.2" y1="398.2" x2="238.4" y2="398.2" stroke="#8a8a8a" stroke-width="1.1"/>
<line x1="62.2" y1="398.2" x2="64.4" y2="398.2" stroke="#3a3a3a" stroke-width="0.9"/>
<text x="58.2" y="398.6" font-size="9.8" text-anchor="end" font-weight="normal" fill="#262626" stroke="#262626" stroke-width="0.36" dominant-baseline="central">0</text>
<line x1="62.2" y1="374.1" x2="64.4" y2="374.1" stroke="#3a3a3a" stroke-width="0.9"/>
<text x="58.2" y="374.5" font-size="9.8" text-anchor="end" font-weight="normal" fill="#262626" stroke="#262626" stroke-width="0.36" dominant-baseline="central">0.5</text>
<line x1="62.2" y1="350.0" x2="64.4" y2="350.0" stroke="#3a3a3a" stroke-width="0.9"/>
<text x="58.2" y="350.4" font-size="9.8" text-anchor="end" font-weight="normal" fill="#262626" stroke="#262626" stroke-width="0.36" dominant-baseline="central">1.0</text>
<line x1="62.2" y1="325.9" x2="64.4" y2="325.9" stroke="#3a3a3a" stroke-width="0.9"/>
<text x="58.2" y="326.3" font-size="9.8" text-anchor="end" font-weight="normal" fill="#262626" stroke="#262626" stroke-width="0.36" dominant-baseline="central">1.5</text>
<line x1="62.2" y1="301.8" x2="64.4" y2="301.8" stroke="#3a3a3a" stroke-width="0.9"/>
<text x="58.2" y="302.2" font-size="9.8" text-anchor="end" font-weight="normal" fill="#262626" stroke="#262626" stroke-width="0.36" dominant-baseline="central">2.0</text>
<line x1="62.2" y1="277.7" x2="64.4" y2="277.7" stroke="#3a3a3a" stroke-width="0.9"/>
<text x="58.2" y="278.1" font-size="9.8" text-anchor="end" font-weight="normal" fill="#262626" stroke="#262626" stroke-width="0.36" dominant-baseline="central">2.5</text>
<text x="31.4" y="338.2" font-size="9.8" text-anchor="middle" font-weight="normal" fill="#262626" stroke="#262626" stroke-width="0.36" dominant-baseline="central" transform="rotate(-90 31.4 338.2)">Unweighted crash rate <tspan dx="1.5">(×10</tspan><tspan font-size="6.2" dy="-3.6">−7</tspan><tspan dy="3.6">)</tspan></text>
<rect x="70.0" y="378.2" width="7.4" height="20.0" fill="#820a1c"/>
<rect x="120.9" y="276.7" width="7.4" height="121.5" fill="#820a1c"/>
<rect x="172.6" y="387.4" width="7.4" height="10.8" fill="#820a1c"/>
<line x1="224.0" y1="398.2" x2="229.0" y2="398.2" stroke="#666" stroke-width="1.2"/>
<text x="77.0" y="408.4" font-size="9.8" text-anchor="middle" font-weight="normal" fill="#262626" stroke="#262626" stroke-width="0.36" dominant-baseline="central">Sideswipe</text>
<text x="126.2" y="408.4" font-size="9.8" text-anchor="middle" font-weight="normal" fill="#262626" stroke="#262626" stroke-width="0.36" dominant-baseline="central">Rear end</text>
<text x="176.6" y="408.4" font-size="9.8" text-anchor="middle" font-weight="normal" fill="#262626" stroke="#262626" stroke-width="0.36" dominant-baseline="central">Angle</text>
<text x="226.2" y="408.4" font-size="9.8" text-anchor="middle" font-weight="normal" fill="#262626" stroke="#262626" stroke-width="0.36" dominant-baseline="central">Head on</text>
<text x="150.2" y="421.2" font-size="9.8" text-anchor="middle" font-weight="normal" fill="#262626" stroke="#262626" stroke-width="0.36" dominant-baseline="central">Crash type</text>
<rect x="197.2" y="276.6" width="12.6" height="4.2" fill="#5e0a18"/>
<text x="213.6" y="278.8" font-size="9.8" text-anchor="start" font-weight="normal" fill="#262626" stroke="#262626" stroke-width="0.36" dominant-baseline="central">D2RL</text>
<text x="280.2" y="266.0" font-size="11" text-anchor="middle" font-weight="bold" fill="#262626" stroke="#262626" stroke-width="0.55" dominant-baseline="central">h</text>
<line x1="319.2" y1="272.4" x2="319.2" y2="397.7" stroke="#555" stroke-width="1.25"/>
<line x1="319.2" y1="397.2" x2="491.2" y2="397.2" stroke="#8a8a8a" stroke-width="1.1"/>
<line x1="319.2" y1="397.2" x2="321.4" y2="397.2" stroke="#3a3a3a" stroke-width="0.9"/>
<text x="315.4" y="396.9" font-size="9.8" text-anchor="end" font-weight="normal" fill="#262626" stroke="#262626" stroke-width="0.36" dominant-baseline="central">0</text>
<line x1="319.2" y1="368.0" x2="321.4" y2="368.0" stroke="#3a3a3a" stroke-width="0.9"/>
<text x="315.4" y="367.7" font-size="9.8" text-anchor="end" font-weight="normal" fill="#262626" stroke="#262626" stroke-width="0.36" dominant-baseline="central">2</text>
<line x1="319.2" y1="338.7" x2="321.4" y2="338.7" stroke="#3a3a3a" stroke-width="0.9"/>
<text x="315.4" y="338.4" font-size="9.8" text-anchor="end" font-weight="normal" fill="#262626" stroke="#262626" stroke-width="0.36" dominant-baseline="central">4</text>
<line x1="319.2" y1="309.5" x2="321.4" y2="309.5" stroke="#3a3a3a" stroke-width="0.9"/>
<text x="315.4" y="309.2" font-size="9.8" text-anchor="end" font-weight="normal" fill="#262626" stroke="#262626" stroke-width="0.36" dominant-baseline="central">6</text>
<line x1="319.2" y1="280.2" x2="321.4" y2="280.2" stroke="#3a3a3a" stroke-width="0.9"/>
<text x="315.4" y="279.9" font-size="9.8" text-anchor="end" font-weight="normal" fill="#262626" stroke="#262626" stroke-width="0.36" dominant-baseline="central">8</text>
<text x="296.0" y="333.0" font-size="9.8" text-anchor="middle" font-weight="normal" fill="#262626" stroke="#262626" stroke-width="0.36" dominant-baseline="central" transform="rotate(-90 296.0 333.0)">Crash rate (×10<tspan font-size="6.2" dy="-3.6">−8</tspan><tspan dy="3.6">)</tspan></text>
<rect x="326.8" y="293.4" width="7.1" height="103.8" fill="#7e0e22"/>
<rect x="333.6" y="302.9" width="6.8" height="94.3" fill="#17145f"/>
<rect x="373.6" y="287.6" width="8.1" height="109.6" fill="#7e0e22"/>
<rect x="381.4" y="278.0" width="7.8" height="119.2" fill="#17145f"/>
<rect x="422.4" y="378.6" width="7.2" height="18.6" fill="#7e0e22"/>
<rect x="429.3" y="378.3" width="6.9" height="18.9" fill="#17145f"/>
<text x="334.6" y="408.6" font-size="9.8" text-anchor="middle" font-weight="normal" fill="#262626" stroke="#262626" stroke-width="0.36" dominant-baseline="central">Sideswipe</text>
<text x="383.2" y="408.6" font-size="9.8" text-anchor="middle" font-weight="normal" fill="#262626" stroke="#262626" stroke-width="0.36" dominant-baseline="central">Rear end</text>
<text x="429.2" y="408.6" font-size="9.8" text-anchor="middle" font-weight="normal" fill="#262626" stroke="#262626" stroke-width="0.36" dominant-baseline="central">Angle</text>
<text x="476.8" y="408.6" font-size="9.8" text-anchor="middle" font-weight="normal" fill="#262626" stroke="#262626" stroke-width="0.36" dominant-baseline="central">Head on</text>
<text x="405.0" y="421.2" font-size="9.8" text-anchor="middle" font-weight="normal" fill="#262626" stroke="#262626" stroke-width="0.36" dominant-baseline="central">Crash type</text>
<rect x="451.8" y="277.8" width="12.4" height="4.2" fill="#16145a"/>
<rect x="451.8" y="287.0" width="12.4" height="4.2" fill="#6e0c1e"/>
<text x="467.6" y="280.0" font-size="9.8" text-anchor="start" font-weight="normal" fill="#262626" stroke="#262626" stroke-width="0.36" dominant-baseline="central">NDE</text>
<text x="467.6" y="289.2" font-size="9.8" text-anchor="start" font-weight="normal" fill="#262626" stroke="#262626" stroke-width="0.36" dominant-baseline="central">D2RL</text>
<text x="519.2" y="265.2" font-size="11" text-anchor="middle" font-weight="bold" fill="#262626" stroke="#262626" stroke-width="0.55" dominant-baseline="central">i</text>
<line x1="556.8" y1="270.0" x2="556.8" y2="397.9" stroke="#555" stroke-width="1.25"/>
<line x1="556.8" y1="397.4" x2="733.6" y2="397.4" stroke="#484848" stroke-width="1.2"/>
<line x1="556.8" y1="397.4" x2="559.0" y2="397.4" stroke="#3a3a3a" stroke-width="0.9"/>
<text x="552.6" y="396.9" font-size="9.8" text-anchor="end" font-weight="normal" fill="#262626" stroke="#262626" stroke-width="0.36" dominant-baseline="central">0</text>
<line x1="556.8" y1="382.3" x2="558.4" y2="382.3" stroke="#3a3a3a" stroke-width="0.7"/>
<line x1="556.8" y1="367.3" x2="559.0" y2="367.3" stroke="#3a3a3a" stroke-width="0.9"/>
<text x="552.6" y="366.8" font-size="9.8" text-anchor="end" font-weight="normal" fill="#262626" stroke="#262626" stroke-width="0.36" dominant-baseline="central">0.1</text>
<line x1="556.8" y1="352.2" x2="558.4" y2="352.2" stroke="#3a3a3a" stroke-width="0.7"/>
<line x1="556.8" y1="337.2" x2="559.0" y2="337.2" stroke="#3a3a3a" stroke-width="0.9"/>
<text x="552.6" y="336.7" font-size="9.8" text-anchor="end" font-weight="normal" fill="#262626" stroke="#262626" stroke-width="0.36" dominant-baseline="central">0.2</text>
<line x1="556.8" y1="322.1" x2="558.4" y2="322.1" stroke="#3a3a3a" stroke-width="0.7"/>
<line x1="556.8" y1="307.1" x2="559.0" y2="307.1" stroke="#3a3a3a" stroke-width="0.9"/>
<text x="552.6" y="306.6" font-size="9.8" text-anchor="end" font-weight="normal" fill="#262626" stroke="#262626" stroke-width="0.36" dominant-baseline="central">0.3</text>
<line x1="556.8" y1="292.0" x2="558.4" y2="292.0" stroke="#3a3a3a" stroke-width="0.7"/>
<line x1="556.8" y1="277.0" x2="559.0" y2="277.0" stroke="#3a3a3a" stroke-width="0.9"/>
<text x="552.6" y="276.5" font-size="9.8" text-anchor="end" font-weight="normal" fill="#262626" stroke="#262626" stroke-width="0.36" dominant-baseline="central">0.4</text>
<text x="529.4" y="330.8" font-size="9.8" text-anchor="middle" font-weight="normal" fill="#262626" stroke="#262626" stroke-width="0.36" dominant-baseline="central" transform="rotate(-90 529.4 330.8)">Frequency</text>
<rect x="576.8" y="391.1" width="11.5" height="6.3" fill="#a83a50" stroke="#8a2a40" stroke-width="0.6"/>
<rect x="588.2" y="386.6" width="11.5" height="10.8" fill="#a83a50" stroke="#8a2a40" stroke-width="0.6"/>
<rect x="599.6" y="396.5" width="11.5" height="0.9" fill="#7c1737" stroke="#5a1030" stroke-width="0.6"/>
<rect x="599.6" y="396.2" width="11.5" height="0.3" fill="#a83a50" stroke="#8a2a40" stroke-width="0.6"/>
<rect x="611.0" y="396.5" width="11.5" height="0.9" fill="#7c1737" stroke="#5a1030" stroke-width="0.6"/>
<rect x="622.4" y="345.0" width="11.5" height="52.4" fill="#7c1737" stroke="#5a1030" stroke-width="0.6"/>
<rect x="633.7" y="294.5" width="11.5" height="102.9" fill="#7c1737" stroke="#5a1030" stroke-width="0.6"/>
<rect x="633.7" y="276.4" width="11.5" height="18.1" fill="#4a49a6" stroke="#3a3880" stroke-width="0.6"/>
<rect x="645.0" y="386.6" width="11.5" height="10.8" fill="#7c1737" stroke="#5a1030" stroke-width="0.6"/>
<rect x="679.8" y="390.8" width="11.5" height="6.6" fill="#7c1737" stroke="#5a1030" stroke-width="0.6"/>
<rect x="691.1" y="387.5" width="11.5" height="9.9" fill="#7c1737" stroke="#5a1030" stroke-width="0.6"/>
<rect x="691.1" y="382.0" width="11.5" height="5.4" fill="#4a49a6" stroke="#3a3880" stroke-width="0.6"/>
<line x1="566.0" y1="397.4" x2="566.0" y2="399.4" stroke="#666" stroke-width="0.8"/>
<text x="566.0" y="407.3" font-size="9.8" text-anchor="middle" font-weight="normal" fill="#262626" stroke="#262626" stroke-width="0.36" dominant-baseline="central">0</text>
<line x1="606.0" y1="397.4" x2="606.0" y2="399.4" stroke="#666" stroke-width="0.8"/>
<text x="606.0" y="407.3" font-size="9.8" text-anchor="middle" font-weight="normal" fill="#262626" stroke="#262626" stroke-width="0.36" dominant-baseline="central">5</text>
<line x1="646.6" y1="397.4" x2="646.6" y2="399.4" stroke="#666" stroke-width="0.8"/>
<text x="646.6" y="407.3" font-size="9.8" text-anchor="middle" font-weight="normal" fill="#262626" stroke="#262626" stroke-width="0.36" dominant-baseline="central">10</text>
<line x1="686.8" y1="397.4" x2="686.8" y2="399.4" stroke="#666" stroke-width="0.8"/>
<text x="686.8" y="407.3" font-size="9.8" text-anchor="middle" font-weight="normal" fill="#262626" stroke="#262626" stroke-width="0.36" dominant-baseline="central">15</text>
<line x1="727.0" y1="397.4" x2="727.0" y2="399.4" stroke="#666" stroke-width="0.8"/>
<text x="727.0" y="407.3" font-size="9.8" text-anchor="middle" font-weight="normal" fill="#262626" stroke="#262626" stroke-width="0.36" dominant-baseline="central">20</text>
<text x="652.6" y="421.4" font-size="9.8" text-anchor="middle" font-weight="normal" fill="#262626" stroke="#262626" stroke-width="0.36" dominant-baseline="central">Speed difference (mph)</text>
<rect x="691.8" y="276.2" width="12.4" height="4.2" fill="#3b3a96"/>
<rect x="691.8" y="285.4" width="12.4" height="4.2" fill="#9a2c44"/>
<text x="708.0" y="278.4" font-size="9.8" text-anchor="start" font-weight="normal" fill="#262626" stroke="#262626" stroke-width="0.36" dominant-baseline="central">NDE</text>
<text x="708.0" y="287.6" font-size="9.8" text-anchor="start" font-weight="normal" fill="#262626" stroke="#262626" stroke-width="0.36" dominant-baseline="central">D2RL</text>
<text x="16.6" y="429.6" font-size="11" text-anchor="middle" font-weight="bold" fill="#262626" stroke="#262626" stroke-width="0.55" dominant-baseline="central">j</text>
<line x1="62.0" y1="435.0" x2="62.0" y2="501.0" stroke="#555" stroke-width="1.25"/>
<line x1="62.0" y1="436.5" x2="64.2" y2="436.5" stroke="#3a3a3a" stroke-width="0.9"/>
<text x="58.2" y="436.8" font-size="9.8" text-anchor="end" font-weight="normal" fill="#262626" stroke="#262626" stroke-width="0.36" dominant-baseline="central">1.2</text>
<line x1="62.0" y1="457.1" x2="64.2" y2="457.1" stroke="#3a3a3a" stroke-width="0.9"/>
<text x="58.2" y="457.4" font-size="9.8" text-anchor="end" font-weight="normal" fill="#262626" stroke="#262626" stroke-width="0.36" dominant-baseline="central">1.0</text>
<line x1="62.0" y1="477.7" x2="64.2" y2="477.7" stroke="#3a3a3a" stroke-width="0.9"/>
<text x="58.2" y="478.0" font-size="9.8" text-anchor="end" font-weight="normal" fill="#262626" stroke="#262626" stroke-width="0.36" dominant-baseline="central">0.8</text>
<line x1="62.0" y1="498.4" x2="64.2" y2="498.4" stroke="#3a3a3a" stroke-width="0.9"/>
<text x="58.2" y="498.7" font-size="9.8" text-anchor="end" font-weight="normal" fill="#262626" stroke="#262626" stroke-width="0.36" dominant-baseline="central">0.6</text>
<text x="30.6" y="519.5" font-size="9.8" text-anchor="start" font-weight="normal" fill="#262626" stroke="#262626" stroke-width="0.36" dominant-baseline="central" transform="rotate(-90 30.6 519.5)">Frequency</text>
<rect x="68.4" y="441.8" width="13.4" height="4.2" fill="#3a3985"/>
<rect x="68.4" y="451.1" width="13.4" height="4.2" fill="#a0304a"/>
<text x="84.8" y="444.0" font-size="9.8" text-anchor="start" font-weight="normal" fill="#262626" stroke="#262626" stroke-width="0.36" dominant-baseline="central">NDE</text>
<text x="84.8" y="453.3" font-size="9.8" text-anchor="start" font-weight="normal" fill="#262626" stroke="#262626" stroke-width="0.36" dominant-baseline="central">D2RL</text>
<rect x="213.8" y="493.6" width="3.6" height="7.4" fill="#5e3078"/>
<rect x="217.0" y="485.4" width="3.6" height="15.6" fill="#642c74"/>
<rect x="220.3" y="473.2" width="3.6" height="27.8" fill="#702464"/>
<rect x="223.6" y="460.2" width="3.6" height="40.8" fill="#801a42"/>
<rect x="226.9" y="446.0" width="3.6" height="55.0" fill="#4e1230"/>
<line x1="229.9" y1="447.0" x2="229.9" y2="501.0" stroke="#9a1232" stroke-width="1.0"/>
<text x="279.8" y="429.6" font-size="11" text-anchor="middle" font-weight="bold" fill="#262626" stroke="#262626" stroke-width="0.55" dominant-baseline="central">k</text>
<line x1="318.8" y1="437.8" x2="318.8" y2="501.0" stroke="#555" stroke-width="1.25"/>
<line x1="318.8" y1="438.5" x2="321.0" y2="438.5" stroke="#3a3a3a" stroke-width="0.9"/>
<text x="315.2" y="438.8" font-size="9.8" text-anchor="end" font-weight="normal" fill="#262626" stroke="#262626" stroke-width="0.36" dominant-baseline="central">0.9</text>
<line x1="318.8" y1="452.3" x2="321.0" y2="452.3" stroke="#3a3a3a" stroke-width="0.9"/>
<text x="315.2" y="452.6" font-size="9.8" text-anchor="end" font-weight="normal" fill="#262626" stroke="#262626" stroke-width="0.36" dominant-baseline="central">0.8</text>
<line x1="318.8" y1="466.1" x2="321.0" y2="466.1" stroke="#3a3a3a" stroke-width="0.9"/>
<text x="315.2" y="466.4" font-size="9.8" text-anchor="end" font-weight="normal" fill="#262626" stroke="#262626" stroke-width="0.36" dominant-baseline="central">0.7</text>
<line x1="318.8" y1="479.8" x2="321.0" y2="479.8" stroke="#3a3a3a" stroke-width="0.9"/>
<text x="315.2" y="480.1" font-size="9.8" text-anchor="end" font-weight="normal" fill="#262626" stroke="#262626" stroke-width="0.36" dominant-baseline="central">0.6</text>
<line x1="318.8" y1="493.6" x2="321.0" y2="493.6" stroke="#3a3a3a" stroke-width="0.9"/>
<text x="315.2" y="493.9" font-size="9.8" text-anchor="end" font-weight="normal" fill="#262626" stroke="#262626" stroke-width="0.36" dominant-baseline="central">0.5</text>
<text x="294.2" y="518.5" font-size="9.8" text-anchor="start" font-weight="normal" fill="#262626" stroke="#262626" stroke-width="0.36" dominant-baseline="central" transform="rotate(-90 294.2 518.5)">Frequency</text>
<rect x="326.4" y="443.9" width="12.4" height="4.2" fill="#1d1c6c"/>
<rect x="326.4" y="453.3" width="12.4" height="4.2" fill="#8a2a44"/>
<text x="342.0" y="446.1" font-size="9.8" text-anchor="start" font-weight="normal" fill="#262626" stroke="#262626" stroke-width="0.36" dominant-baseline="central">NDE</text>
<text x="342.0" y="455.5" font-size="9.8" text-anchor="start" font-weight="normal" fill="#262626" stroke="#262626" stroke-width="0.36" dominant-baseline="central">D2RL</text>
<rect x="479.2" y="485.6" width="3.4" height="16.0" fill="#7a1232"/>
<rect x="482.4" y="461.4" width="2.6" height="40.0" fill="#5a1030"/>
<line x1="484.2" y1="461.4" x2="484.2" y2="501.0" stroke="#20103a" stroke-width="1.0"/>
<text x="519.0" y="429.2" font-size="11" text-anchor="middle" font-weight="bold" fill="#262626" stroke="#262626" stroke-width="0.55" dominant-baseline="central">l</text>
<line x1="556.8" y1="435.2" x2="556.8" y2="501.0" stroke="#555" stroke-width="1.25"/>
<line x1="556.8" y1="437.1" x2="559.0" y2="437.1" stroke="#3a3a3a" stroke-width="0.9"/>
<text x="553.4" y="437.4" font-size="9.8" text-anchor="end" font-weight="normal" fill="#262626" stroke="#262626" stroke-width="0.36" dominant-baseline="central">1.2</text>
<line x1="556.8" y1="457.1" x2="559.0" y2="457.1" stroke="#3a3a3a" stroke-width="0.9"/>
<text x="553.4" y="457.4" font-size="9.8" text-anchor="end" font-weight="normal" fill="#262626" stroke="#262626" stroke-width="0.36" dominant-baseline="central">1.0</text>
<line x1="556.8" y1="477.7" x2="559.0" y2="477.7" stroke="#3a3a3a" stroke-width="0.9"/>
<text x="553.4" y="478.0" font-size="9.8" text-anchor="end" font-weight="normal" fill="#262626" stroke="#262626" stroke-width="0.36" dominant-baseline="central">0.8</text>
<line x1="556.8" y1="498.2" x2="559.0" y2="498.2" stroke="#3a3a3a" stroke-width="0.9"/>
<text x="553.4" y="498.5" font-size="9.8" text-anchor="end" font-weight="normal" fill="#262626" stroke="#262626" stroke-width="0.36" dominant-baseline="central">0.6</text>
<text x="530.6" y="520.0" font-size="9.8" text-anchor="start" font-weight="normal" fill="#262626" stroke="#262626" stroke-width="0.36" dominant-baseline="central" transform="rotate(-90 530.6 520.0)">Frequency</text>
<rect x="565.8" y="440.3" width="13.2" height="4.2" fill="#3d3c92"/>
<rect x="565.8" y="449.7" width="13.2" height="4.2" fill="#9a3a4c"/>
<text x="582.6" y="442.5" font-size="9.8" text-anchor="start" font-weight="normal" fill="#262626" stroke="#262626" stroke-width="0.36" dominant-baseline="central">NDE</text>
<text x="582.6" y="451.9" font-size="9.8" text-anchor="start" font-weight="normal" fill="#262626" stroke="#262626" stroke-width="0.36" dominant-baseline="central">D2RL</text>
<polyline points="578.4,501.0 578.4,498.0 579.8,498.0 579.8,492.6 582.8,492.6 582.8,483.2 590.0,483.2 590.0,487.0 596.4,487.0 596.4,489.6 600.4,489.6 600.4,492.8 603.4,492.8 603.4,496.4 604.8,496.4 604.8,501.0" fill="#7c1232" stroke="#5a0c24" stroke-width="0.6" stroke-linejoin="round"/>
</svg>
</body>
</html>
